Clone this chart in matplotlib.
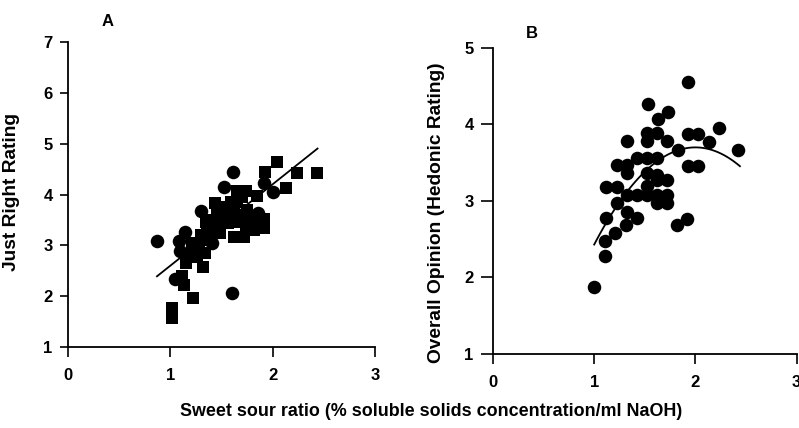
import numpy as np
import matplotlib
matplotlib.use("Agg")
from matplotlib import pyplot as plt

# Panel A: just-right rating vs sweet/sour ratio (two groups)
a_circle_x = [0.87, 1.61, 1.60, 1.14, 1.09, 1.10, 1.30, 1.53, 1.92, 2.00, 1.86, 1.05, 1.41, 1.46]
a_circle_y = [3.08, 4.45, 2.07, 3.27, 3.08, 2.88, 3.68, 4.15, 4.23, 4.04, 3.64, 2.34, 3.04, 3.30]
a_square_x = [1.02, 1.02, 1.22, 1.13, 1.11, 1.32, 2.04, 1.93, 2.24, 2.43, 2.13, 1.85, 1.74,
              1.65, 1.44, 1.59, 1.92, 1.92, 1.72, 1.74, 1.72, 1.62, 1.41, 1.36, 1.36, 1.26,
              1.18, 1.15, 1.26, 1.34, 1.46, 1.54, 1.62, 1.56, 1.49, 1.82, 1.21,
              1.30, 1.35, 1.40, 1.28, 1.45, 1.50, 1.55, 1.60, 1.65, 1.70, 1.75, 1.80, 1.68]
a_square_y = [1.77, 1.57, 1.96, 2.22, 2.39, 2.58, 4.63, 4.45, 4.43, 4.42, 4.12, 3.97, 4.06,
              4.06, 3.84, 3.86, 3.51, 3.34, 3.57, 3.37, 3.17, 3.17, 3.50, 3.30, 3.11, 2.98,
              2.81, 2.65, 2.78, 2.85, 3.63, 3.76, 3.63, 3.44, 3.24, 3.30, 3.04,
              3.20, 3.45, 3.25, 3.05, 3.45, 3.55, 3.60, 3.75, 3.85, 3.95, 3.70, 3.50, 3.45]
a_fit = [1.6, 1.0]          # slope, intercept
a_fit_range = [0.87, 2.44]

# Panel B: overall opinion vs sweet/sour ratio
b_x = [1.93, 1.53, 1.73, 1.63, 2.23, 1.93, 2.03, 2.13, 1.52, 1.62, 1.32, 1.52, 1.72, 1.83,
       2.42, 1.42, 1.52, 1.62, 1.23, 1.32, 1.93, 2.03, 1.32, 1.52, 1.62, 1.62, 1.72, 1.12,
       1.23, 1.52, 1.32, 1.42, 1.52, 1.62, 1.72, 1.62, 1.72, 1.23, 1.32, 1.12, 1.42, 1.31,
       1.92, 1.82, 1.21, 1.11, 1.11, 1.00]
b_y = [4.56, 4.27, 4.16, 4.07, 3.96, 3.87, 3.87, 3.77, 3.89, 3.89, 3.78, 3.78, 3.78, 3.67,
       3.67, 3.56, 3.56, 3.56, 3.47, 3.47, 3.46, 3.46, 3.37, 3.37, 3.34, 3.28, 3.28, 3.18,
       3.18, 3.19, 3.08, 3.08, 3.08, 3.08, 3.08, 2.97, 2.97, 2.97, 2.86, 2.78, 2.78, 2.68,
       2.76, 2.68, 2.58, 2.47, 2.28, 1.88]
b_fit = [-1.27, 5.08, -1.38]  # quadratic coefficients
b_fit_range = [1.0, 2.44]

plt.rcParams["font.family"] = ["Liberation Sans", "DejaVu Sans"]
plt.rcParams["font.weight"] = "bold"

fig = plt.figure(figsize=(7.99, 4.28), dpi=100)
ax_a = fig.add_axes([0.0851, 0.189, 0.384, 0.713])
ax_b = fig.add_axes([0.617, 0.173, 0.380, 0.715])


def style_axes(ax, ylim, yticks, ylen):
    for side in ["top", "right"]:
        ax.spines[side].set_visible(False)
    for side in ["left", "bottom"]:
        ax.spines[side].set_linewidth(1.3)
    ax.set_xlim(0, 3)
    ax.set_ylim(*ylim)
    ax.set_xticks([0, 1, 2, 3])
    ax.set_yticks(yticks)
    ax.tick_params(axis="x", direction="out", length=7, width=1.2, pad=8, labelsize=12)
    ax.tick_params(axis="y", direction="out", length=ylen, width=1.2, pad=5, labelsize=12)
    for lab in ax.get_xticklabels() + ax.get_yticklabels():
        lab.set_fontweight("bold")


# panel A
ax_a.scatter(a_square_x, a_square_y, marker="s", s=85, c="black", linewidths=0, clip_on=False)
ax_a.scatter(a_circle_x, a_circle_y, marker="o", s=95, c="black", linewidths=0, clip_on=False)
xa = np.linspace(a_fit_range[0], a_fit_range[1], 50)
ax_a.plot(xa, np.polyval(a_fit, xa), color="black", lw=1.3)
style_axes(ax_a, (1, 7), [1, 2, 3, 4, 5, 6, 7], 6)
ax_a.set_ylabel("Just Right Rating", fontsize=13.8, fontweight="bold")
ax_a.yaxis.set_label_coords((20 - 68) / 307, (347 - 192) / 305)

# panel B
ax_b.scatter(b_x, b_y, marker="o", s=95, c="black", linewidths=0, clip_on=False)
xb = np.linspace(b_fit_range[0], b_fit_range[1], 100)
ax_b.plot(xb, np.polyval(b_fit, xb), color="black", lw=1.3)
style_axes(ax_b, (1, 5), [1, 2, 3, 4, 5], 9)
ax_b.set_ylabel("Overall Opinion (Hedonic Rating)", fontsize=13.8, fontweight="bold")
ax_b.yaxis.set_label_coords((445 - 493) / 304, (354 - 213) / 306)

fig.text(108 / 799, 1 - 22 / 428, "A", fontsize=12, fontweight="bold", ha="center", va="center")
fig.text(532 / 799, 1 - 33 / 428, "B", fontsize=12, fontweight="bold", ha="center", va="center")
fig.text(431 / 799, 1 - 412 / 428, "Sweet sour ratio (% soluble solids concentration/ml NaOH)",
         fontsize=12.9, fontweight="bold", ha="center", va="center")

fig.savefig("out.png", dpi=100)
